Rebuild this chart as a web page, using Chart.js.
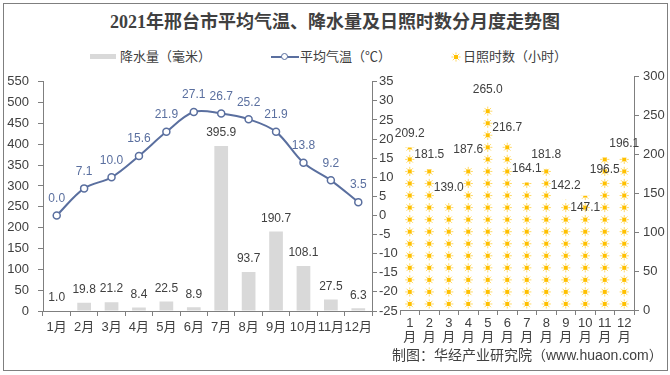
<!DOCTYPE html>
<html>
<head>
<meta charset="utf-8">
<script src="https://cdn.jsdelivr.net/npm/chart.js@4.4.1/dist/chart.umd.min.js"></script>
<style>
body { margin: 0; background: #fff; }
#wrap { position: relative; width: 670px; height: 375px; overflow: hidden;
  font-family: 'Liberation Sans', 'Noto Sans CJK SC', sans-serif; color: #404040; }
#frame { position: absolute; left: 3px; top: 3px; width: 663px; height: 366px; border: 1px solid #7f7f7f; }
#title { position: absolute; left: 0; top: 10px; width: 670px; text-align: center;
  font: bold 18px 'Liberation Serif', 'Noto Sans CJK SC', serif; line-height: 24px; color: #404040; }
.lg { position: absolute; top: 49px; font-size: 13px; line-height: 16px; white-space: nowrap; }
#footer { position: absolute; left: 392px; top: 346px; font-size: 14px; line-height: 18px; white-space: nowrap; }
canvas { position: absolute; }
</style>
</head>
<body>
<div id="wrap">
  <div id="frame"></div>
  <div id="title">2021年邢台市平均气温、降水量及日照时数分月度走势图</div>

  <div style="position:absolute;left:90px;top:54px;width:26px;height:5px;background:#d9d9d9"></div>
  <div class="lg" style="left:120px">降水量（毫米）</div>
  <div style="position:absolute;left:271px;top:56px;width:28px;height:2px;background:#5a6f9f"></div>
  <div style="position:absolute;left:281px;top:53px;width:5px;height:5px;border:1.5px solid #5a6f9f;border-radius:50%;background:#fff"></div>
  <div class="lg" style="left:300px">平均气温（℃）</div>
  <canvas id="legendSun" width="10" height="10" style="left:451px;top:52px"></canvas>
  <div class="lg" style="left:463px">日照时数（小时）</div>

  <canvas id="graficaIzq" width="400" height="274" style="left:0;top:65px"></canvas>
  <canvas id="graficaDer" width="290" height="281" style="left:380px;top:65px"></canvas>

  <div id="footer">制图：华经产业研究院（www.huaon.com）</div>
</div>

<script>
// datos
const meses = ['1月', '2月', '3月', '4月', '5月', '6月', '7月', '8月', '9月', '10月', '11月', '12月'];
const mesesVertical = [['1', '月'], ['2', '月'], ['3', '月'], ['4', '月'], ['5', '月'], ['6', '月'],
  ['7', '月'], ['8', '月'], ['9', '月'], ['10', '月'], ['11', '月'], ['12', '月']];
const precipitacion = [1.0, 19.8, 21.2, 8.4, 22.5, 8.9, 395.9, 93.7, 190.7, 108.1, 27.5, 6.3];
const temperatura = [0.0, 7.1, 10.0, 15.6, 21.9, 27.1, 26.7, 25.2, 21.9, 13.8, 9.2, 3.5];
const horasSol = [209.2, 181.5, 139.0, 187.6, 265.0, 216.7, 164.1, 181.8, 142.2, 147.1, 196.5, 196.1];

// horas que representa cada solecito
const horasPorSol = 15.5;
// etiquetas que van debajo del tope
const etiquetasAbajo = [9, 10];

const colorLinea = '#5a6f9f';
const colorTexto = '#404040';
const colorEje = '#7f7f7f';
const fuente = "'Liberation Sans', 'Noto Sans CJK SC', sans-serif";

function dibujarSol(ctx, x, y) {
  ctx.save();
  ctx.strokeStyle = '#ffd966';
  ctx.lineWidth = 1;
  for (let a = 0; a < 8; a++) {
    const ang = a * Math.PI / 4;
    ctx.beginPath();
    ctx.moveTo(x + Math.cos(ang) * 2.5, y + Math.sin(ang) * 2.5);
    ctx.lineTo(x + Math.cos(ang) * 4.6, y + Math.sin(ang) * 4.6);
    ctx.stroke();
  }
  ctx.fillStyle = '#ffc000';
  ctx.fillRect(x - 2, y - 2, 4, 4);
  ctx.restore();
}

dibujarSol(document.getElementById('legendSun').getContext('2d'), 5, 5);

//Etiquetas de valores
const etiquetasPlugin = {
  id: 'etiquetas',
  afterDatasetsDraw(chart) {
    const ctx = chart.ctx;
    ctx.save();
    ctx.textAlign = 'center';
    ctx.textBaseline = 'middle';
    ctx.font = '12px ' + fuente;
    chart.data.datasets.forEach((ds, di) => {
      const meta = chart.getDatasetMeta(di);
      ctx.fillStyle = ds.colorEtiqueta;
      meta.data.forEach((el, i) => {
        ctx.fillText(ds.data[i].toFixed(1), el.x, el.y - ds.separacion);
      });
    });
    ctx.restore();
  }
};

//Grafica izquierda: precipitacion y temperatura
const izq = document.getElementById('graficaIzq');

new Chart(izq, {
  type: 'bar',
  data: {
    labels: meses,
    datasets: [{
      type: 'line',
      label: '平均气温（℃）',
      data: temperatura,
      yAxisID: 'y1',
      borderColor: colorLinea,
      borderWidth: 2,
      tension: 0.35,
      pointRadius: 3.5,
      pointBorderWidth: 1.5,
      pointBackgroundColor: '#fff',
      pointBorderColor: colorLinea,
      colorEtiqueta: colorLinea,
      separacion: 17,
      order: 0
    }, {
      label: '降水量（毫米）',
      data: precipitacion,
      yAxisID: 'y',
      backgroundColor: '#d9d9d9',
      barPercentage: 0.5,
      categoryPercentage: 1,
      colorEtiqueta: colorTexto,
      separacion: 13,
      order: 1
    }]
  },
  options: {
    responsive: false,
    animation: false,
    layout: { padding: { top: 13, left: 0, right: 0, bottom: 0 } },
    plugins: { legend: { display: false }, tooltip: { enabled: false } },
    scales: {
      x: {
        afterFit: s => { s.height = 28; },
        grid: { drawOnChartArea: false, tickLength: 5, color: colorEje, offset: true },
        border: { color: colorEje },
        ticks: { color: colorTexto, font: { size: 13, family: fuente }, padding: 4, maxRotation: 0, autoSkip: false }
      },
      y: {
        position: 'left',
        min: 0,
        max: 550,
        afterFit: s => { s.width = 43; },
        grid: { drawOnChartArea: false, tickLength: 5, color: colorEje },
        border: { color: colorEje },
        ticks: { stepSize: 50, color: colorTexto, font: { size: 13, family: fuente }, padding: 9 }
      },
      y1: {
        position: 'right',
        min: -25,
        max: 35,
        afterFit: s => { s.width = 28; },
        grid: { drawOnChartArea: false, tickLength: 5, color: colorEje },
        border: { color: colorEje },
        ticks: { stepSize: 5, color: colorTexto, font: { size: 13, family: fuente }, padding: 2 }
      }
    }
  },
  plugins: [etiquetasPlugin]
});

//Grafica derecha: horas de sol
const solesPlugin = {
  id: 'soles',
  afterDatasetsDraw(chart) {
    const ctx = chart.ctx;
    const escala = chart.scales.y;
    const meta = chart.getDatasetMeta(0);
    meta.data.forEach((barra, i) => {
      ctx.save();
      ctx.beginPath();
      ctx.rect(barra.x - 8, barra.y, 16, barra.base - barra.y);
      ctx.clip();
      for (let k = 0; k * horasPorSol < horasSol[i]; k++) {
        dibujarSol(ctx, barra.x, escala.getPixelForValue((k + 0.5) * horasPorSol));
      }
      ctx.restore();

      ctx.save();
      ctx.textAlign = 'center';
      ctx.textBaseline = 'middle';
      ctx.font = '12px ' + fuente;
      ctx.fillStyle = colorTexto;
      const dy = etiquetasAbajo.includes(i) ? 12 : -14;
      ctx.fillText(horasSol[i].toFixed(1), barra.x, barra.y + dy);
      ctx.restore();
    });
  }
};

const der = document.getElementById('graficaDer');

new Chart(der, {
  type: 'bar',
  data: {
    labels: mesesVertical,
    datasets: [{
      label: '日照时数（小时）',
      data: horasSol,
      backgroundColor: 'rgba(0,0,0,0)',
      barThickness: 12
    }]
  },
  options: {
    responsive: false,
    animation: false,
    layout: { padding: { top: 10, left: 20, right: 0, bottom: 0 } },
    plugins: { legend: { display: false }, tooltip: { enabled: false } },
    scales: {
      x: {
        afterFit: s => { s.height = 36; },
        grid: { drawOnChartArea: false, tickLength: 5, color: colorEje, offset: true },
        border: { color: colorEje },
        ticks: { color: colorTexto, font: { size: 13, family: fuente, lineHeight: 1.1 }, padding: 1, maxRotation: 0, autoSkip: false }
      },
      y: {
        position: 'right',
        min: 0,
        max: 300,
        afterFit: s => { s.width = 36; },
        grid: { drawOnChartArea: false, tickLength: 5, color: colorEje },
        border: { color: colorEje },
        ticks: { stepSize: 50, color: colorTexto, font: { size: 13, family: fuente }, padding: 4 }
      }
    }
  },
  plugins: [solesPlugin]
});
</script>
</body>
</html>
